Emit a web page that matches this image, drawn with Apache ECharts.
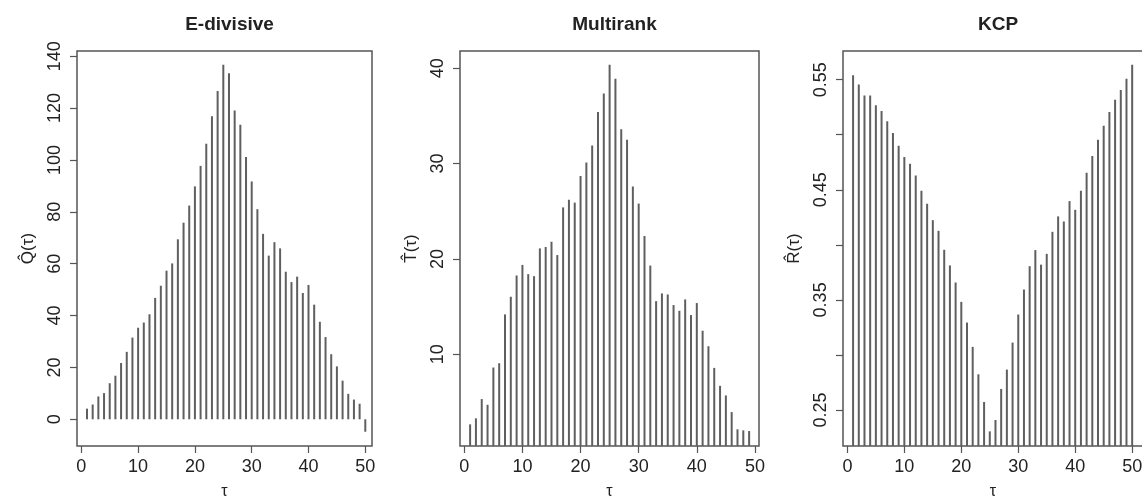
<!DOCTYPE html>
<html>
<head>
<meta charset="utf-8">
<script src="https://cdn.jsdelivr.net/npm/echarts@6/dist/echarts.min.js"></script>
<style>
  html, body { margin: 0; padding: 0; background: #fff; }
  #main { width: 1142px; height: 498px; }
</style>
</head>
<body>
<div id="main"></div>
<script>
// values, index = tau
var edivTau = [];
for (var i = 1; i <= 50; i++) edivTau.push(i);
var edivQ = [4.1, 5.7, 8.8, 10.1, 13.9, 16.8, 21.7, 26.0, 31.5, 35.3,
  37.3, 40.5, 46.8, 51.5, 57.3, 60.1, 69.4, 75.8, 82.4, 89.8,
  97.7, 106.2, 116.8, 126.6, 136.7, 133.4, 119.1, 113.6, 101.1, 91.7,
  81.0, 71.5, 63.1, 68.3, 65.9, 56.9, 52.9, 55.0, 48.7, 51.8,
  44.2, 37.6, 31.7, 25.1, 20.4, 14.9, 9.8, 7.6, 6.0, -4.8];

var multTau = [];
for (var j = 1; j <= 49; j++) multTau.push(j);
var multT = [2.65, 3.28, 5.30, 4.70, 8.61, 9.06, 14.18, 16.03, 18.26, 19.37,
  18.40, 18.19, 21.1, 21.25, 21.8, 20.4, 25.4, 26.2, 25.9, 28.7,
  30.1, 31.9, 35.4, 37.35, 40.35, 38.9, 33.6, 32.5, 27.6, 25.8,
  22.4, 19.3, 15.57, 16.38, 16.27, 15.16, 14.56, 15.75, 14.11, 15.37,
  12.47, 10.84, 8.57, 6.69, 5.68, 3.94, 2.13, 2.02, 1.95];

var kcpTau = edivTau;
var kcpR = [0.5539, 0.5455, 0.5355, 0.5355, 0.5267, 0.5215, 0.5121, 0.5015, 0.4900, 0.4797,
  0.4736, 0.4630, 0.4491, 0.4373, 0.4224, 0.4127, 0.3955, 0.3813, 0.3658, 0.3482,
  0.3294, 0.3073, 0.2824, 0.2573, 0.2306, 0.2409, 0.2691, 0.2867, 0.3112, 0.3367,
  0.3594, 0.3806, 0.3952, 0.3820, 0.3918, 0.4118, 0.4258, 0.4212, 0.4397, 0.4318,
  0.4491, 0.4655, 0.4806, 0.4955, 0.5082, 0.5206, 0.5318, 0.5406, 0.5509, 0.5636];

var xTicks = [0, 10, 20, 30, 40, 50];
var edivYTicks = [0, 20, 40, 60, 80, 100, 120, 140];
var multYTicks = [10, 20, 30, 40];
var kcpYTicks = [0.25, 0.30, 0.35, 0.40, 0.45, 0.50, 0.55];
var kcpYLabels = [0.25, 0.35, 0.45, 0.55];

var titles = ["E-divisive", "Multirank", "KCP"];
var yNames = ["Q\u0302(\u03c4)", "T\u0302(\u03c4)", "R\u0302(\u03c4)"];

var panels = [
  { left: 77, width: 295, xMin: -0.76, xMax: 51.18, yMin: -10.3, yMax: 142.0,
    yTicks: edivYTicks, yLabels: edivYTicks, tau: edivTau, vals: edivQ, fmt: function (v) { return String(v); } },
  { left: 460, width: 299, xMin: -0.74, xMax: 50.7, yMin: 0.38, yMax: 41.8,
    yTicks: multYTicks, yLabels: multYTicks, tau: multTau, vals: multT, fmt: function (v) { return String(v); } },
  { left: 843, width: 300, xMin: -0.77, xMax: 51.9, yMin: 0.2173, yMax: 0.576,
    yTicks: kcpYTicks, yLabels: kcpYLabels, tau: kcpTau, vals: kcpR, fmt: function (v) { return v.toFixed(2); } }
];

var textColor = "#222";
var lineColor = "#555";
var fontFam = "'Liberation Sans', Arial, sans-serif";

var grid = [], xAxis = [], yAxis = [], series = [], title = [];
panels.forEach(function (p, k) {
  grid.push({
    left: p.left, top: 51, width: p.width, height: 395,
    outerBoundsMode: "none", containLabel: false,
    show: true, borderColor: lineColor, borderWidth: 1.5, backgroundColor: "transparent"
  });
  title.push({
    text: titles[k], left: p.left + p.width / 2, top: 10, textAlign: "center",
    textStyle: { fontFamily: fontFam, fontSize: 19, fontWeight: "bold", color: textColor }
  });
  xAxis.push({
    type: "value", gridIndex: k, min: p.xMin, max: p.xMax,
    name: "\u03c4", nameLocation: "middle", nameGap: 38,
    nameTextStyle: { fontFamily: fontFam, fontSize: 16, color: textColor },
    axisLine: { show: false, onZero: false },
    axisTick: { show: true, length: 7, lineStyle: { color: lineColor, width: 1.2 }, customValues: xTicks },
    axisLabel: { fontFamily: fontFam, fontSize: 18, color: textColor, margin: 12, customValues: xTicks },
    splitLine: { show: false }
  });
  yAxis.push({
    type: "value", gridIndex: k, min: p.yMin, max: p.yMax,
    name: yNames[k], nameLocation: "middle", nameGap: 40, nameRotate: 90,
    nameTextStyle: { fontFamily: fontFam, fontSize: 17, color: textColor },
    axisLine: { show: false, onZero: false },
    axisTick: { show: true, length: 7, lineStyle: { color: lineColor, width: 1.2 }, customValues: p.yTicks },
    axisLabel: { fontFamily: fontFam, fontSize: 18, color: textColor, rotate: 90, margin: 13,
      customValues: p.yLabels, formatter: p.fmt },
    splitLine: { show: false }
  });
  series.push({
    type: "bar", xAxisIndex: k, yAxisIndex: k, barWidth: 2,
    itemStyle: { color: "#5f5f5f" }, clip: true, silent: true,
    data: p.tau.map(function (t, i) { return [t, p.vals[i]]; })
  });
});

var myChart = echarts.init(document.getElementById("main"), null, { renderer: "canvas" });
myChart.setOption({
  animation: false,
  backgroundColor: "#fff",
  title: title,
  grid: grid,
  xAxis: xAxis,
  yAxis: yAxis,
  series: series
});
</script>
</body>
</html>
